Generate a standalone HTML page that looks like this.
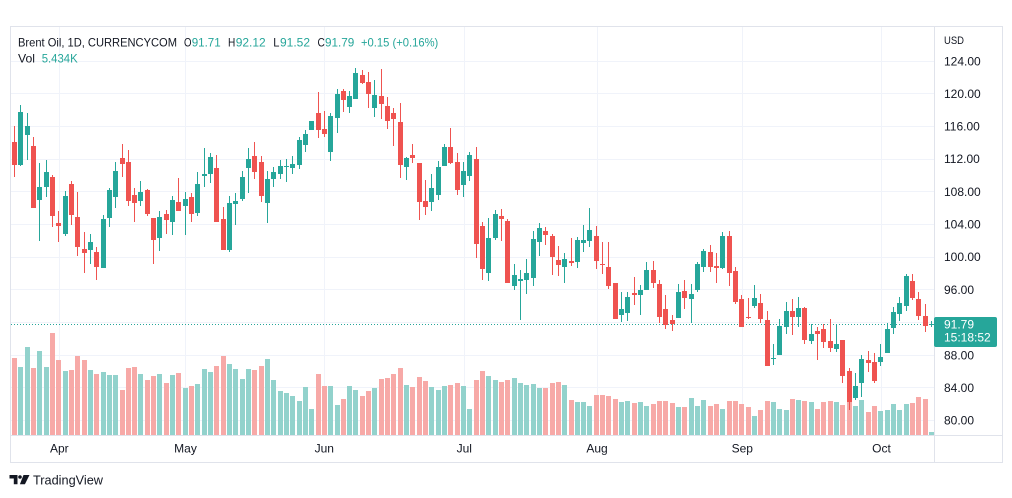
<!DOCTYPE html>
<html><head><meta charset="utf-8"><style>
html,body{margin:0;padding:0;background:#fff;}
svg{display:block;font-family:"Liberation Sans",sans-serif;}
</style></head><body>
<svg width="1012" height="498" viewBox="0 0 1012 498" xmlns="http://www.w3.org/2000/svg">
<defs><clipPath id="pc"><rect x="11" y="27" width="923" height="408"/></clipPath></defs>
<rect width="1012" height="498" fill="#fff"/>
<g stroke="#f0f3fa" stroke-width="1" fill="none">
<path d="M11 61.5H934M11 93.5H934M11 126.5H934M11 159.5H934M11 191.5H934M11 224.5H934M11 257.5H934M11 289.5H934M11 322.5H934M11 355.5H934M11 387.5H934M11 420.5H934"/>
<path d="M59.5 27V435M185.5 27V435M324.5 27V435M464.5 27V435M597.5 27V435M742.5 27V435M881.5 27V435"/>
</g>
<g clip-path="url(#pc)">
<path fill="#92d2cc" d="M6 377h5V435h-5zM18 367h5V435h-5zM25 347h5V435h-5zM37 351h5V435h-5zM44 367h5V435h-5zM63 371h5V435h-5zM88 370h5V435h-5zM101 372h5V435h-5zM107 375h5V435h-5zM113 375h5V435h-5zM138 374h5V435h-5zM157 374h5V435h-5zM170 375h5V435h-5zM183 388h5V435h-5zM195 384h5V435h-5zM202 369h5V435h-5zM208 372h5V435h-5zM227 364h5V435h-5zM233 369h5V435h-5zM240 379h5V435h-5zM246 369h5V435h-5zM265 359h5V435h-5zM271 380h5V435h-5zM278 391h5V435h-5zM284 393h5V435h-5zM290 396h5V435h-5zM297 401h5V435h-5zM303 387h5V435h-5zM309 409h5V435h-5zM328 386h5V435h-5zM335 405h5V435h-5zM347 386h5V435h-5zM353 390h5V435h-5zM372 388h5V435h-5zM404 385h5V435h-5zM429 387h5V435h-5zM436 390h5V435h-5zM442 386h5V435h-5zM461 386h5V435h-5zM467 409h5V435h-5zM486 376h5V435h-5zM493 380h5V435h-5zM512 378h5V435h-5zM518 383h5V435h-5zM524 385h5V435h-5zM531 384h5V435h-5zM537 388h5V435h-5zM562 385h5V435h-5zM575 402h5V435h-5zM581 402h5V435h-5zM587 406h5V435h-5zM619 402h5V435h-5zM625 401h5V435h-5zM638 402h5V435h-5zM644 406h5V435h-5zM676 407h5V435h-5zM689 398h5V435h-5zM695 406h5V435h-5zM701 400h5V435h-5zM720 409h5V435h-5zM752 416h5V435h-5zM771 402h5V435h-5zM777 409h5V435h-5zM784 410h5V435h-5zM796 400h5V435h-5zM809 402h5V435h-5zM834 402h5V435h-5zM853 406h5V435h-5zM859 400h5V435h-5zM878 411h5V435h-5zM885 410h5V435h-5zM891 404h5V435h-5zM897 410h5V435h-5zM904 404h5V435h-5zM929 432h5V435h-5z"/>
<path fill="#f7a9a7" d="M12 358h5V435h-5zM31 368h5V435h-5zM50 333h5V435h-5zM56 360h5V435h-5zM69 370h5V435h-5zM75 356h5V435h-5zM82 360h5V435h-5zM94 374h5V435h-5zM120 390h5V435h-5zM126 368h5V435h-5zM132 367h5V435h-5zM145 380h5V435h-5zM151 376h5V435h-5zM164 383h5V435h-5zM176 373h5V435h-5zM189 386h5V435h-5zM214 366h5V435h-5zM221 356h5V435h-5zM252 370h5V435h-5zM259 366h5V435h-5zM316 374h5V435h-5zM322 386h5V435h-5zM341 399h5V435h-5zM360 396h5V435h-5zM366 391h5V435h-5zM379 379h5V435h-5zM385 378h5V435h-5zM391 374h5V435h-5zM398 368h5V435h-5zM410 387h5V435h-5zM417 377h5V435h-5zM423 381h5V435h-5zM448 385h5V435h-5zM455 383h5V435h-5zM474 380h5V435h-5zM480 371h5V435h-5zM499 382h5V435h-5zM505 380h5V435h-5zM543 388h5V435h-5zM550 383h5V435h-5zM556 382h5V435h-5zM569 400h5V435h-5zM594 395h5V435h-5zM600 395h5V435h-5zM606 396h5V435h-5zM613 399h5V435h-5zM632 403h5V435h-5zM651 404h5V435h-5zM657 401h5V435h-5zM663 401h5V435h-5zM670 403h5V435h-5zM682 407h5V435h-5zM708 406h5V435h-5zM714 404h5V435h-5zM727 401h5V435h-5zM733 401h5V435h-5zM739 404h5V435h-5zM746 407h5V435h-5zM758 410h5V435h-5zM765 401h5V435h-5zM790 399h5V435h-5zM802 401h5V435h-5zM815 409h5V435h-5zM821 402h5V435h-5zM828 401h5V435h-5zM840 405h5V435h-5zM847 402h5V435h-5zM866 412h5V435h-5zM872 406h5V435h-5zM910 403h5V435h-5zM916 397h5V435h-5zM923 399h5V435h-5z"/>
<path d="M11 324.5H934" stroke="#26a69a" stroke-width="1" stroke-dasharray="1 2"/>
<path stroke="#26a69a" stroke-width="1" fill="none" d="M8.5 140V200M20.5 105V166M27.5 113V160M39.5 163V241M46.5 160V197M65.5 191V236M90.5 234V264M103.5 215V268M109.5 188V227M115.5 162V208M140.5 181V206M159.5 211V251M172.5 196V235M185.5 192V235M197.5 172V216M204.5 148V187M210.5 153V183M229.5 196V252M235.5 193V225M242.5 171V201M248.5 148V193M267.5 171V223M273.5 167V187M280.5 160V179M286.5 159V182M292.5 156V174M299.5 137V169M305.5 130V152M311.5 121V130M330.5 113V161M337.5 89V133M349.5 91V113M355.5 68V99M374.5 80V117M406.5 157V180M431.5 174V211M438.5 161V200M444.5 144V166M463.5 162V197M469.5 152V181M488.5 218V281M495.5 210V240M514.5 264V290M520.5 270V320M526.5 259V294M533.5 231V286M539.5 223V256M564.5 253V283M577.5 237V268M583.5 225V252M589.5 208V247M621.5 292V322M627.5 292V321M640.5 285V315M646.5 262V290M678.5 284V318M691.5 284V323M697.5 262V292M703.5 249V272M722.5 232V269M754.5 285V308M773.5 344V365M779.5 319V355M786.5 302V334M798.5 297V327M811.5 324V344M836.5 324V352M855.5 373V400M861.5 355V397M880.5 344V366M887.5 323V353M893.5 307V334M899.5 297V321M906.5 274V311M931.5 321V327"/>
<path fill="#26a69a" d="M6 145h5v50h-5zM18 112h5v53h-5zM25 126h5v9h-5zM37 187h5v13h-5zM44 172h5v15h-5zM63 196h5v38h-5zM88 242h5v8h-5zM101 219h5v49h-5zM107 190h5v28h-5zM113 171h5v26h-5zM138 192h5v9h-5zM157 217h5v21h-5zM170 200h5v22h-5zM183 199h5v7h-5zM195 184h5v29h-5zM202 174h5v2h-5zM208 157h5v17h-5zM227 203h5v47h-5zM233 201h5v3h-5zM240 177h5v22h-5zM246 159h5v9h-5zM265 179h5v24h-5zM271 172h5v7h-5zM278 166h5v8h-5zM284 166h5v1h-5zM290 164h5v4h-5zM297 140h5v25h-5zM303 134h5v11h-5zM309 121h5v9h-5zM328 116h5v36h-5zM335 94h5v24h-5zM347 96h5v11h-5zM353 73h5v26h-5zM372 95h5v13h-5zM404 158h5v9h-5zM429 188h5v14h-5zM436 167h5v28h-5zM442 147h5v19h-5zM461 171h5v14h-5zM467 155h5v21h-5zM486 238h5v35h-5zM493 214h5v24h-5zM512 275h5v11h-5zM518 279h5v2h-5zM524 273h5v7h-5zM531 239h5v39h-5zM537 228h5v14h-5zM562 259h5v8h-5zM575 240h5v22h-5zM581 240h5v3h-5zM587 230h5v11h-5zM619 309h5v6h-5zM625 297h5v16h-5zM638 290h5v5h-5zM644 270h5v20h-5zM676 292h5v26h-5zM689 294h5v5h-5zM695 264h5v26h-5zM701 251h5v16h-5zM720 236h5v32h-5zM752 298h5v8h-5zM771 358h5v1h-5zM777 326h5v29h-5zM784 311h5v16h-5zM796 308h5v9h-5zM809 334h5v7h-5zM834 344h5v5h-5zM853 386h5v12h-5zM859 359h5v24h-5zM878 357h5v5h-5zM885 329h5v24h-5zM891 312h5v16h-5zM897 303h5v11h-5zM904 276h5v30h-5zM929 324h5v1h-5z"/>
<path stroke="#ef5350" stroke-width="1" fill="none" d="M14.5 126V177M33.5 137V208M52.5 175V227M58.5 211V242M71.5 181V225M77.5 192V256M84.5 232V273M96.5 247V280M122.5 144V177M128.5 150V206M134.5 188V222M147.5 189V216M153.5 218V264M166.5 210V234M178.5 178V211M191.5 193V222M216.5 155V222M223.5 207V250M254.5 142V179M261.5 156V202M318.5 92V138M324.5 111V137M343.5 89V112M362.5 70V84M368.5 72V108M381.5 69V119M387.5 97V129M393.5 108V146M400.5 103V178M412.5 144V163M419.5 163V220M425.5 180V215M450.5 128V164M457.5 153V195M476.5 147V258M482.5 222V280M501.5 209V241M507.5 219V283M545.5 227V245M552.5 234V275M558.5 246V276M571.5 238V266M596.5 226V269M602.5 242V274M608.5 242V289M615.5 283V319M634.5 277V305M653.5 261V288M659.5 280V323M665.5 295V329M672.5 315V331M684.5 280V309M710.5 245V272M716.5 253V283M729.5 231V286M735.5 267V304M741.5 295V327M748.5 298V319M760.5 294V323M767.5 311V366M792.5 299V335M804.5 307V344M817.5 327V360M823.5 324V348M830.5 319V352M842.5 340V383M849.5 368V410M868.5 351V372M874.5 353V383M912.5 274V300M918.5 292V320M925.5 304V332"/>
<path fill="#ef5350" d="M12 142h5v23h-5zM31 146h5v62h-5zM50 177h5v39h-5zM56 223h5v3h-5zM69 184h5v31h-5zM75 217h5v30h-5zM82 249h5v4h-5zM94 252h5v15h-5zM120 158h5v6h-5zM126 162h5v39h-5zM132 195h5v8h-5zM145 190h5v24h-5zM151 218h5v22h-5zM164 214h5v6h-5zM176 202h5v9h-5zM189 197h5v17h-5zM214 168h5v54h-5zM221 219h5v31h-5zM252 156h5v16h-5zM259 162h5v34h-5zM316 113h5v17h-5zM322 129h5v5h-5zM341 91h5v9h-5zM360 75h5v8h-5zM366 82h5v12h-5zM379 96h5v8h-5zM385 106h5v15h-5zM391 113h5v6h-5zM398 122h5v43h-5zM410 155h5v3h-5zM417 163h5v39h-5zM423 201h5v6h-5zM448 147h5v16h-5zM455 162h5v28h-5zM474 159h5v85h-5zM480 226h5v43h-5zM499 216h5v3h-5zM505 221h5v62h-5zM543 231h5v4h-5zM550 236h5v21h-5zM556 260h5v5h-5zM569 261h5v2h-5zM594 236h5v25h-5zM600 264h5v1h-5zM606 267h5v19h-5zM613 283h5v36h-5zM632 293h5v2h-5zM651 270h5v13h-5zM657 284h5v33h-5zM663 309h5v16h-5zM670 320h5v4h-5zM682 291h5v7h-5zM708 252h5v15h-5zM714 266h5v2h-5zM727 236h5v37h-5zM733 271h5v31h-5zM739 299h5v28h-5zM746 317h5v1h-5zM758 303h5v16h-5zM765 320h5v46h-5zM790 311h5v6h-5zM802 308h5v32h-5zM815 331h5v3h-5zM821 329h5v13h-5zM828 341h5v7h-5zM840 340h5v36h-5zM847 371h5v31h-5zM866 360h5v3h-5zM872 362h5v19h-5zM910 281h5v17h-5zM916 299h5v17h-5zM923 316h5v10h-5z"/>
</g>
<g stroke="#e0e3eb" stroke-width="1" fill="none">
<rect x="10.5" y="26.5" width="992" height="436"/>
<path d="M934.5 26.5V462.5M10.5 435.5H1002.5"/>
</g>
<g font-size="12" fill="#131722">
<text x="18" y="46.5" textLength="159" lengthAdjust="spacingAndGlyphs">Brent Oil, 1D, CURRENCYCOM</text>
<text x="184" y="46.5" textLength="7.5" lengthAdjust="spacingAndGlyphs">O</text>
<text x="191.7" y="46.5" fill="#26a69a" textLength="29" lengthAdjust="spacingAndGlyphs">91.71</text>
<text x="228" y="46.5" textLength="7.3" lengthAdjust="spacingAndGlyphs">H</text>
<text x="235.7" y="46.5" fill="#26a69a" textLength="30" lengthAdjust="spacingAndGlyphs">92.12</text>
<text x="273.3" y="46.5" textLength="6.2" lengthAdjust="spacingAndGlyphs">L</text>
<text x="280" y="46.5" fill="#26a69a" textLength="30" lengthAdjust="spacingAndGlyphs">91.52</text>
<text x="317.5" y="46.5" textLength="7.3" lengthAdjust="spacingAndGlyphs">C</text>
<text x="325" y="46.5" fill="#26a69a" textLength="29.3" lengthAdjust="spacingAndGlyphs">91.79</text>
<text x="361" y="46.5" fill="#26a69a" textLength="77.3" lengthAdjust="spacingAndGlyphs">+0.15 (+0.16%)</text>
<text x="18" y="62.5" textLength="17" lengthAdjust="spacingAndGlyphs">Vol</text>
<text x="41.7" y="62.5" fill="#26a69a" textLength="36" lengthAdjust="spacingAndGlyphs">5.434K</text>
<text x="944" y="44" font-size="11" textLength="20" lengthAdjust="spacingAndGlyphs">USD</text>
<text x="944" y="65.5">124.00</text>
<text x="944" y="97.8">120.00</text>
<text x="944" y="130.5">116.00</text>
<text x="944" y="163.2">112.00</text>
<text x="944" y="195.8">108.00</text>
<text x="944" y="228.5">104.00</text>
<text x="944" y="261.2">100.00</text>
<text x="944" y="294">96.00</text>
<text x="944" y="359.3">88.00</text>
<text x="944" y="392">84.00</text>
<text x="944" y="424.6">80.00</text>
<g text-anchor="middle">
<text x="59.3" y="452.5">Apr</text>
<text x="185.5" y="452.5">May</text>
<text x="324.3" y="452.5">Jun</text>
<text x="464.3" y="452.5">Jul</text>
<text x="597" y="452.5">Aug</text>
<text x="742.3" y="452.5">Sep</text>
<text x="881.5" y="452.5">Oct</text>
</g>
</g>
<rect x="934" y="317" width="63" height="30" rx="2" fill="#26a69a"/>
<text x="944" y="328.5" font-size="12" fill="#fff">91.79</text>
<text x="944" y="341.5" font-size="12" fill="#fff">15:18:52</text>
<g fill="#131722">
<path d="M9.5 475h8v9.3h-3.7v-5.8h-4.3z"/>
<circle cx="20" cy="477" r="1.8"/>
<path d="M23.5 475h6l-4.6 9.3h-5z"/>
<text x="33" y="484.5" font-size="13" textLength="70" lengthAdjust="spacingAndGlyphs">TradingView</text>
</g>
</svg>
</body></html>
